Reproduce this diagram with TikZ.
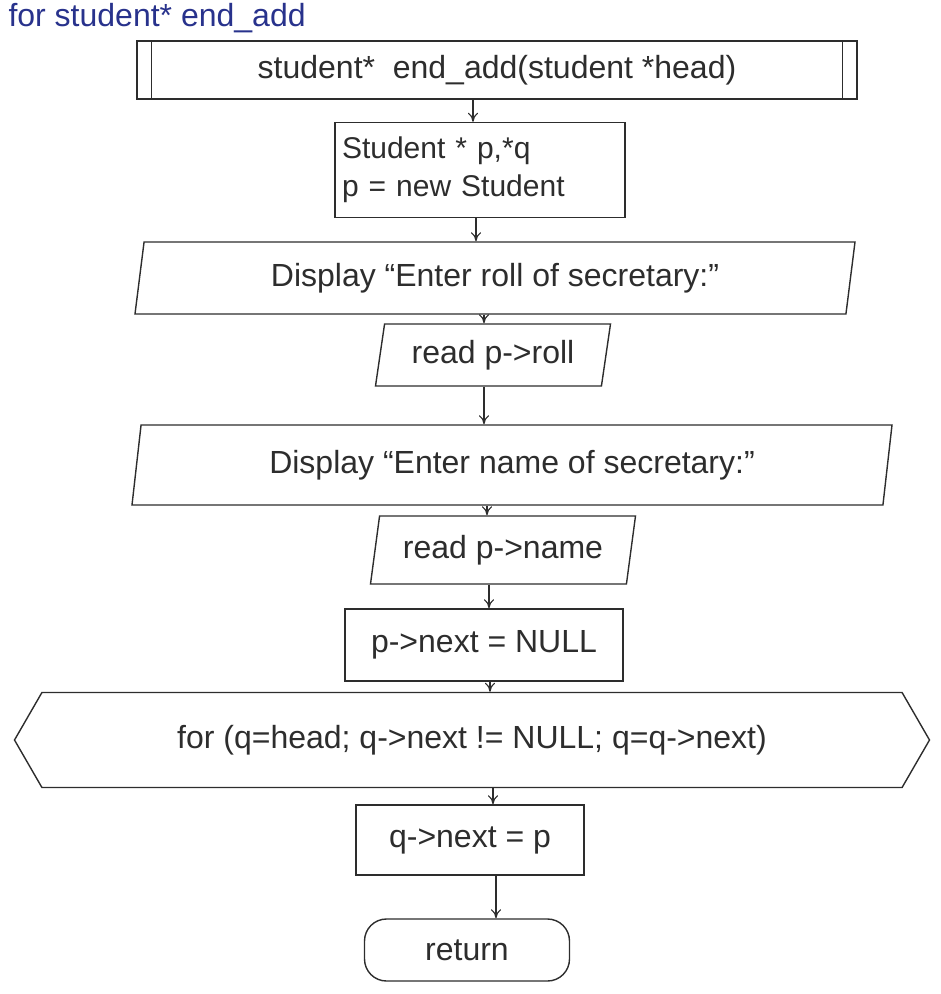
\documentclass[tikz,border=0pt]{standalone}
\usepackage{fontspec}
\setmainfont{Liberation Sans}
\usetikzlibrary{shapes.geometric,shapes.symbols,arrows.meta}
\definecolor{ink}{RGB}{45,45,45}
\definecolor{penblue}{RGB}{40,50,140}
\tikzset{
  every node/.style={font=\fontsize{32}{38}\selectfont, text=ink},
  box/.style={draw=ink, line width=1.4pt, rectangle, inner sep=4pt, align=left},
  io/.style={draw=ink, line width=1.4pt, trapezium, trapezium left angle=75, trapezium right angle=105, trapezium stretches body, inner sep=2pt},
  loopbox/.style={draw=ink, line width=1.4pt, signal, signal to=west and east, signal pointer angle=120, inner sep=2pt},
  term/.style={draw=ink, line width=1.4pt, rectangle, rounded corners=22pt},
  arr/.style={draw=ink, line width=1.1pt, -{To[length=9pt,width=10pt]}}
}
\begin{document}
\begin{tikzpicture}[x=1pt,y=-1pt]
\useasboundingbox (0,0) rectangle (941,994);
\node[anchor=west, text=penblue] (title) at (5,18) {for student* end\_add};
\node[box, minimum width=720pt, minimum height=58pt] (b1) at (497,70) {student* \ end\_add(student *head)};
\draw[ink, line width=1.4pt] ([xshift=15pt]b1.north west) -- ([xshift=15pt]b1.south west);
\draw[ink, line width=1.4pt] ([xshift=-15pt]b1.north east) -- ([xshift=-15pt]b1.south east);
\node[box, minimum width=290pt, minimum height=95pt, text width=276pt, font=\fontsize{30}{38}\selectfont] (b2) at (480,170) {Student * p,*q\\p = new Student};
\node[io, minimum width=720pt, minimum height=72pt] (p3) at (495,278) {Display “Enter roll of secretary:”};
\node[io, minimum width=235pt, minimum height=62pt] (p4) at (493,355) {read p->roll};
\node[io, minimum width=760pt, minimum height=80pt] (p5) at (512,465) {Display “Enter name of secretary:”};
\node[io, minimum width=265pt, minimum height=68pt] (p6) at (503,550) {read p->name};
\node[box, minimum width=278pt, minimum height=72pt, align=center] (r7) at (484,645) {p->next = NULL};
\node[loopbox, minimum width=915pt, minimum height=95pt] (h8) at (472,740) {for (q=head; q->next != NULL; q=q->next)};
\node[box, minimum width=228pt, minimum height=70pt, align=center] (r9) at (470,840) {q->next = p};
\node[term, minimum width=205pt, minimum height=62pt] (t10) at (467,950) {return};
\draw[arr] (b1.south -| 473,0) coordinate (a1) -- (a1 |- b2.north);
\draw[arr] (b2.south -| 476,0) coordinate (a2) -- (a2 |- p3.north);
\draw[arr] (p3.south -| 484,0) coordinate (a3) -- (a3 |- p4.north);
\draw[arr] (p4.south -| 484,0) coordinate (a4) -- (a4 |- p5.north);
\draw[arr] (p5.south -| 487,0) coordinate (a5) -- (a5 |- p6.north);
\draw[arr] (p6.south -| 489,0) coordinate (a6) -- (a6 |- r7.north);
\draw[arr] (r7.south -| 490,0) coordinate (a7) -- (a7 |- h8.north);
\draw[arr] (h8.south -| 493,0) coordinate (a8) -- (a8 |- r9.north);
\draw[arr] (r9.south -| 496,0) coordinate (a9) -- (a9 |- t10.north);
\end{tikzpicture}
\end{document}
